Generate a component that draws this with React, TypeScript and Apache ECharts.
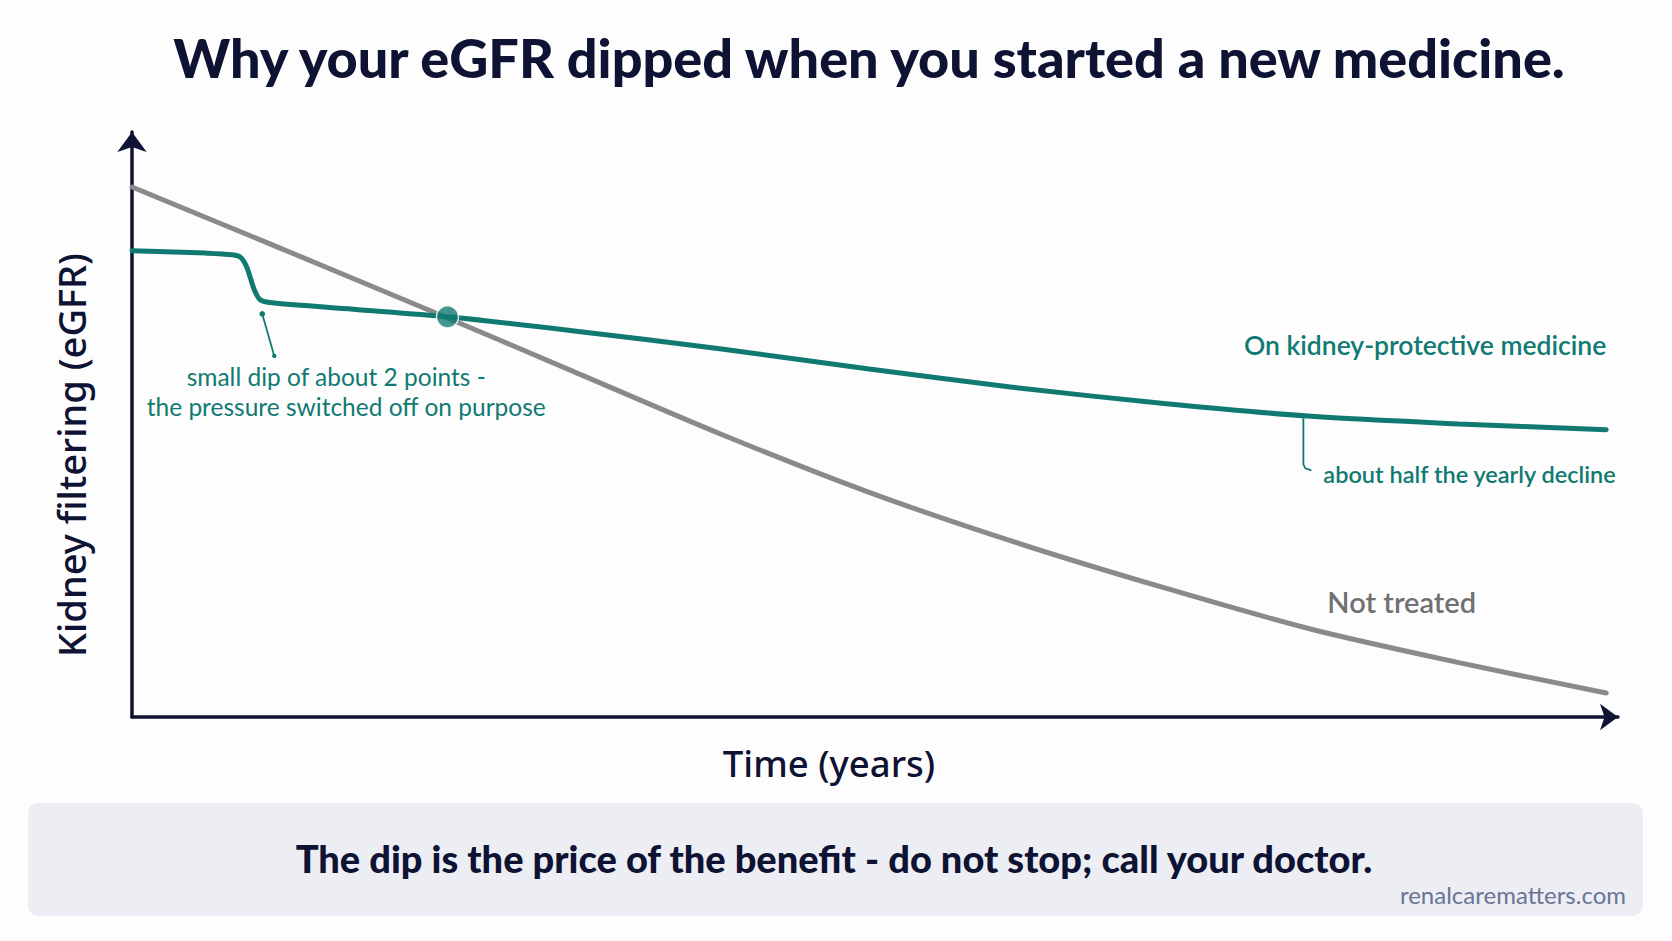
import React, { useEffect, useRef } from "react";
import * as echarts from "echarts";

const TITLE = "Why your eGFR dipped when you started a new medicine.";
const Y_NAME = "Kidney filtering (eGFR)";
const X_NAME = "Time (years)";
const FOOTER = "The dip is the price of the benefit - do not stop; call your doctor.";
const SOURCE = "renalcarematters.com";
const TREATED_LABEL = "On kidney-protective medicine";
const UNTREATED_LABEL = "Not treated";
const DIP_NOTE = ["small dip of about 2 points -", "the pressure switched off on purpose"];
const HALF_NOTE = "about half the yearly decline";

const untreatedYears = [0, 1, 2, 3, 4, 5, 6, 7, 8, 9, 10];
const untreated = [90.6, 80.2, 69.7, 59.0, 48.3, 38.4, 29.8, 22.1, 15.0, 9.3, 4.1];
const treatedYears = [0, 0.5, 0.68, 0.74, 0.78, 0.83, 0.87, 0.95, 1.5, 2.14, 3, 4, 5, 6, 7, 8, 9, 10];
const treated = [79.7, 79.3, 79.0, 78.5, 76.8, 73.0, 71.3, 70.8, 69.7, 68.4, 66.0, 62.9, 59.5, 56.3, 53.6, 51.4, 50.1, 49.1];
const crossing = [2.14, 68.4];

const TEAL = "#107a72";
const GRAY = "#8a8a8c";
const NAVY = "#0e1233";
const FONT = "Lato, 'Noto Sans', sans-serif";
const FONT2 = "'Noto Sans', 'Open Sans', sans-serif";

export default function App() {
  const ref = useRef<HTMLDivElement>(null);
  useEffect(() => {
    if (!ref.current) return;
    const chart = echarts.init(ref.current, null, { renderer: "svg" });
    const option: any = {
      animation: false,
      backgroundColor: "#fdfdfd",
      grid: { left: 132, right: 54, top: 132, bottom: 224 },
      xAxis: {
        type: "value",
        min: 0,
        max: 10.08,
        axisLine: { show: true, symbol: ["none", "arrow"], symbolSize: [20, 18], lineStyle: { color: NAVY, width: 3.5 } },
        axisTick: { show: false },
        axisLabel: { show: false },
        splitLine: { show: false },
      },
      yAxis: {
        type: "value",
        min: 0,
        max: 100,
        axisLine: { show: true, onZero: false, symbol: ["none", "arrow"], symbolSize: [22, 20], lineStyle: { color: NAVY, width: 3.5 } },
        axisTick: { show: false },
        axisLabel: { show: false },
        splitLine: { show: false },
      },
      series: [
        {
          type: "line",
          data: untreatedYears.map((x, i) => [x, untreated[i]]),
          smooth: 0.3,
          showSymbol: false,
          lineStyle: { color: GRAY, width: 5, cap: "round" },
          z: 2,
        },
        {
          type: "line",
          data: treatedYears.map((x, i) => [x, treated[i]]),
          smooth: 0.3,
          showSymbol: false,
          lineStyle: { color: TEAL, width: 5, cap: "round" },
          z: 3,
        },
        {
          type: "scatter",
          data: [crossing],
          symbolSize: 22,
          itemStyle: { color: TEAL, borderColor: "#ffffff", borderWidth: 1.5 },
          z: 4,
        },
      ],
    };
    chart.setOption(option);

    const px = (p: number[]) => chart.convertToPixel({ gridIndex: 0 }, p) as number[];
    const dipA = px([treatedYears[6], treated[6]]);
    const halfA = px([8, treated[15]]);
    const tEnd = px([10, treated[treated.length - 1]]);
    const uA = px([8, untreated[8]]);

    const graphic: any[] = [
      {
        type: "text",
        x: 869,
        y: 57,
        style: { text: TITLE, font: `900 54px ${FONT}`, fill: NAVY, align: "center", verticalAlign: "middle" },
      },
      {
        type: "text",
        x: 71,
        y: 455,
        rotation: Math.PI / 2,
        style: { text: Y_NAME, font: `500 38px ${FONT2}`, fill: NAVY, align: "center", verticalAlign: "middle" },
      },
      {
        type: "text",
        x: 829,
        y: 763,
        style: { text: X_NAME, font: `500 36.5px ${FONT2}`, fill: NAVY, align: "center", verticalAlign: "middle" },
      },
      {
        type: "rect",
        shape: { x: 28, y: 803, width: 1615, height: 113, r: 10 },
        style: { fill: "#eceef4" },
      },
      {
        type: "text",
        x: 834,
        y: 858,
        style: { text: FOOTER, font: `900 38px ${FONT}`, fill: NAVY, align: "center", verticalAlign: "middle" },
      },
      {
        type: "text",
        x: 1626,
        y: 894,
        style: { text: SOURCE, font: `24px ${FONT}`, fill: "#6b7394", align: "right", verticalAlign: "middle" },
      },
      // dip annotation
      {
        type: "line",
        shape: { x1: dipA[0] + 2, y1: dipA[1] + 14, x2: dipA[0] + 14, y2: dipA[1] + 56 },
        style: { stroke: TEAL, lineWidth: 1.8 },
      },
      { type: "circle", shape: { cx: dipA[0] + 2, cy: dipA[1] + 14, r: 2.8 }, style: { fill: TEAL } },
      { type: "circle", shape: { cx: dipA[0] + 14, cy: dipA[1] + 56, r: 2.2 }, style: { fill: TEAL } },
      {
        type: "text",
        x: dipA[0] + 76,
        y: dipA[1] + 77,
        style: { text: DIP_NOTE[0], font: `24.5px ${FONT}`, fill: TEAL, align: "center", verticalAlign: "middle" },
      },
      {
        type: "text",
        x: dipA[0] + 86,
        y: dipA[1] + 107,
        style: { text: DIP_NOTE[1], font: `24.5px ${FONT}`, fill: TEAL, align: "center", verticalAlign: "middle" },
      },
      // half annotation
      {
        type: "polyline",
        shape: {
          points: [
            [halfA[0] - 8, halfA[1] + 2],
            [halfA[0] - 8, halfA[1] + 48],
            [halfA[0] - 6, halfA[1] + 52],
            [halfA[0], halfA[1] + 54],
          ],
        },
        style: { stroke: TEAL, lineWidth: 1.8, fill: "none" },
      },
      {
        type: "text",
        x: halfA[0] + 12,
        y: halfA[1] + 58,
        style: { text: HALF_NOTE, font: `600 23.5px ${FONT}`, fill: TEAL, align: "left", verticalAlign: "middle" },
      },
      {
        type: "text",
        x: tEnd[0],
        y: tEnd[1] - 85,
        style: { text: TREATED_LABEL, font: `600 26.5px ${FONT}`, fill: TEAL, align: "right", verticalAlign: "middle" },
      },
      {
        type: "text",
        x: uA[0] + 16,
        y: uA[1] - 28,
        style: { text: UNTREATED_LABEL, font: `600 29px ${FONT}`, fill: "#707072", align: "left", verticalAlign: "middle" },
      },
    ];
    chart.setOption({ graphic });
    return () => chart.dispose();
  }, []);
  return <div ref={ref} style={{ position: "fixed", left: 0, top: 0, width: 1672, height: 941 }} />;
}
